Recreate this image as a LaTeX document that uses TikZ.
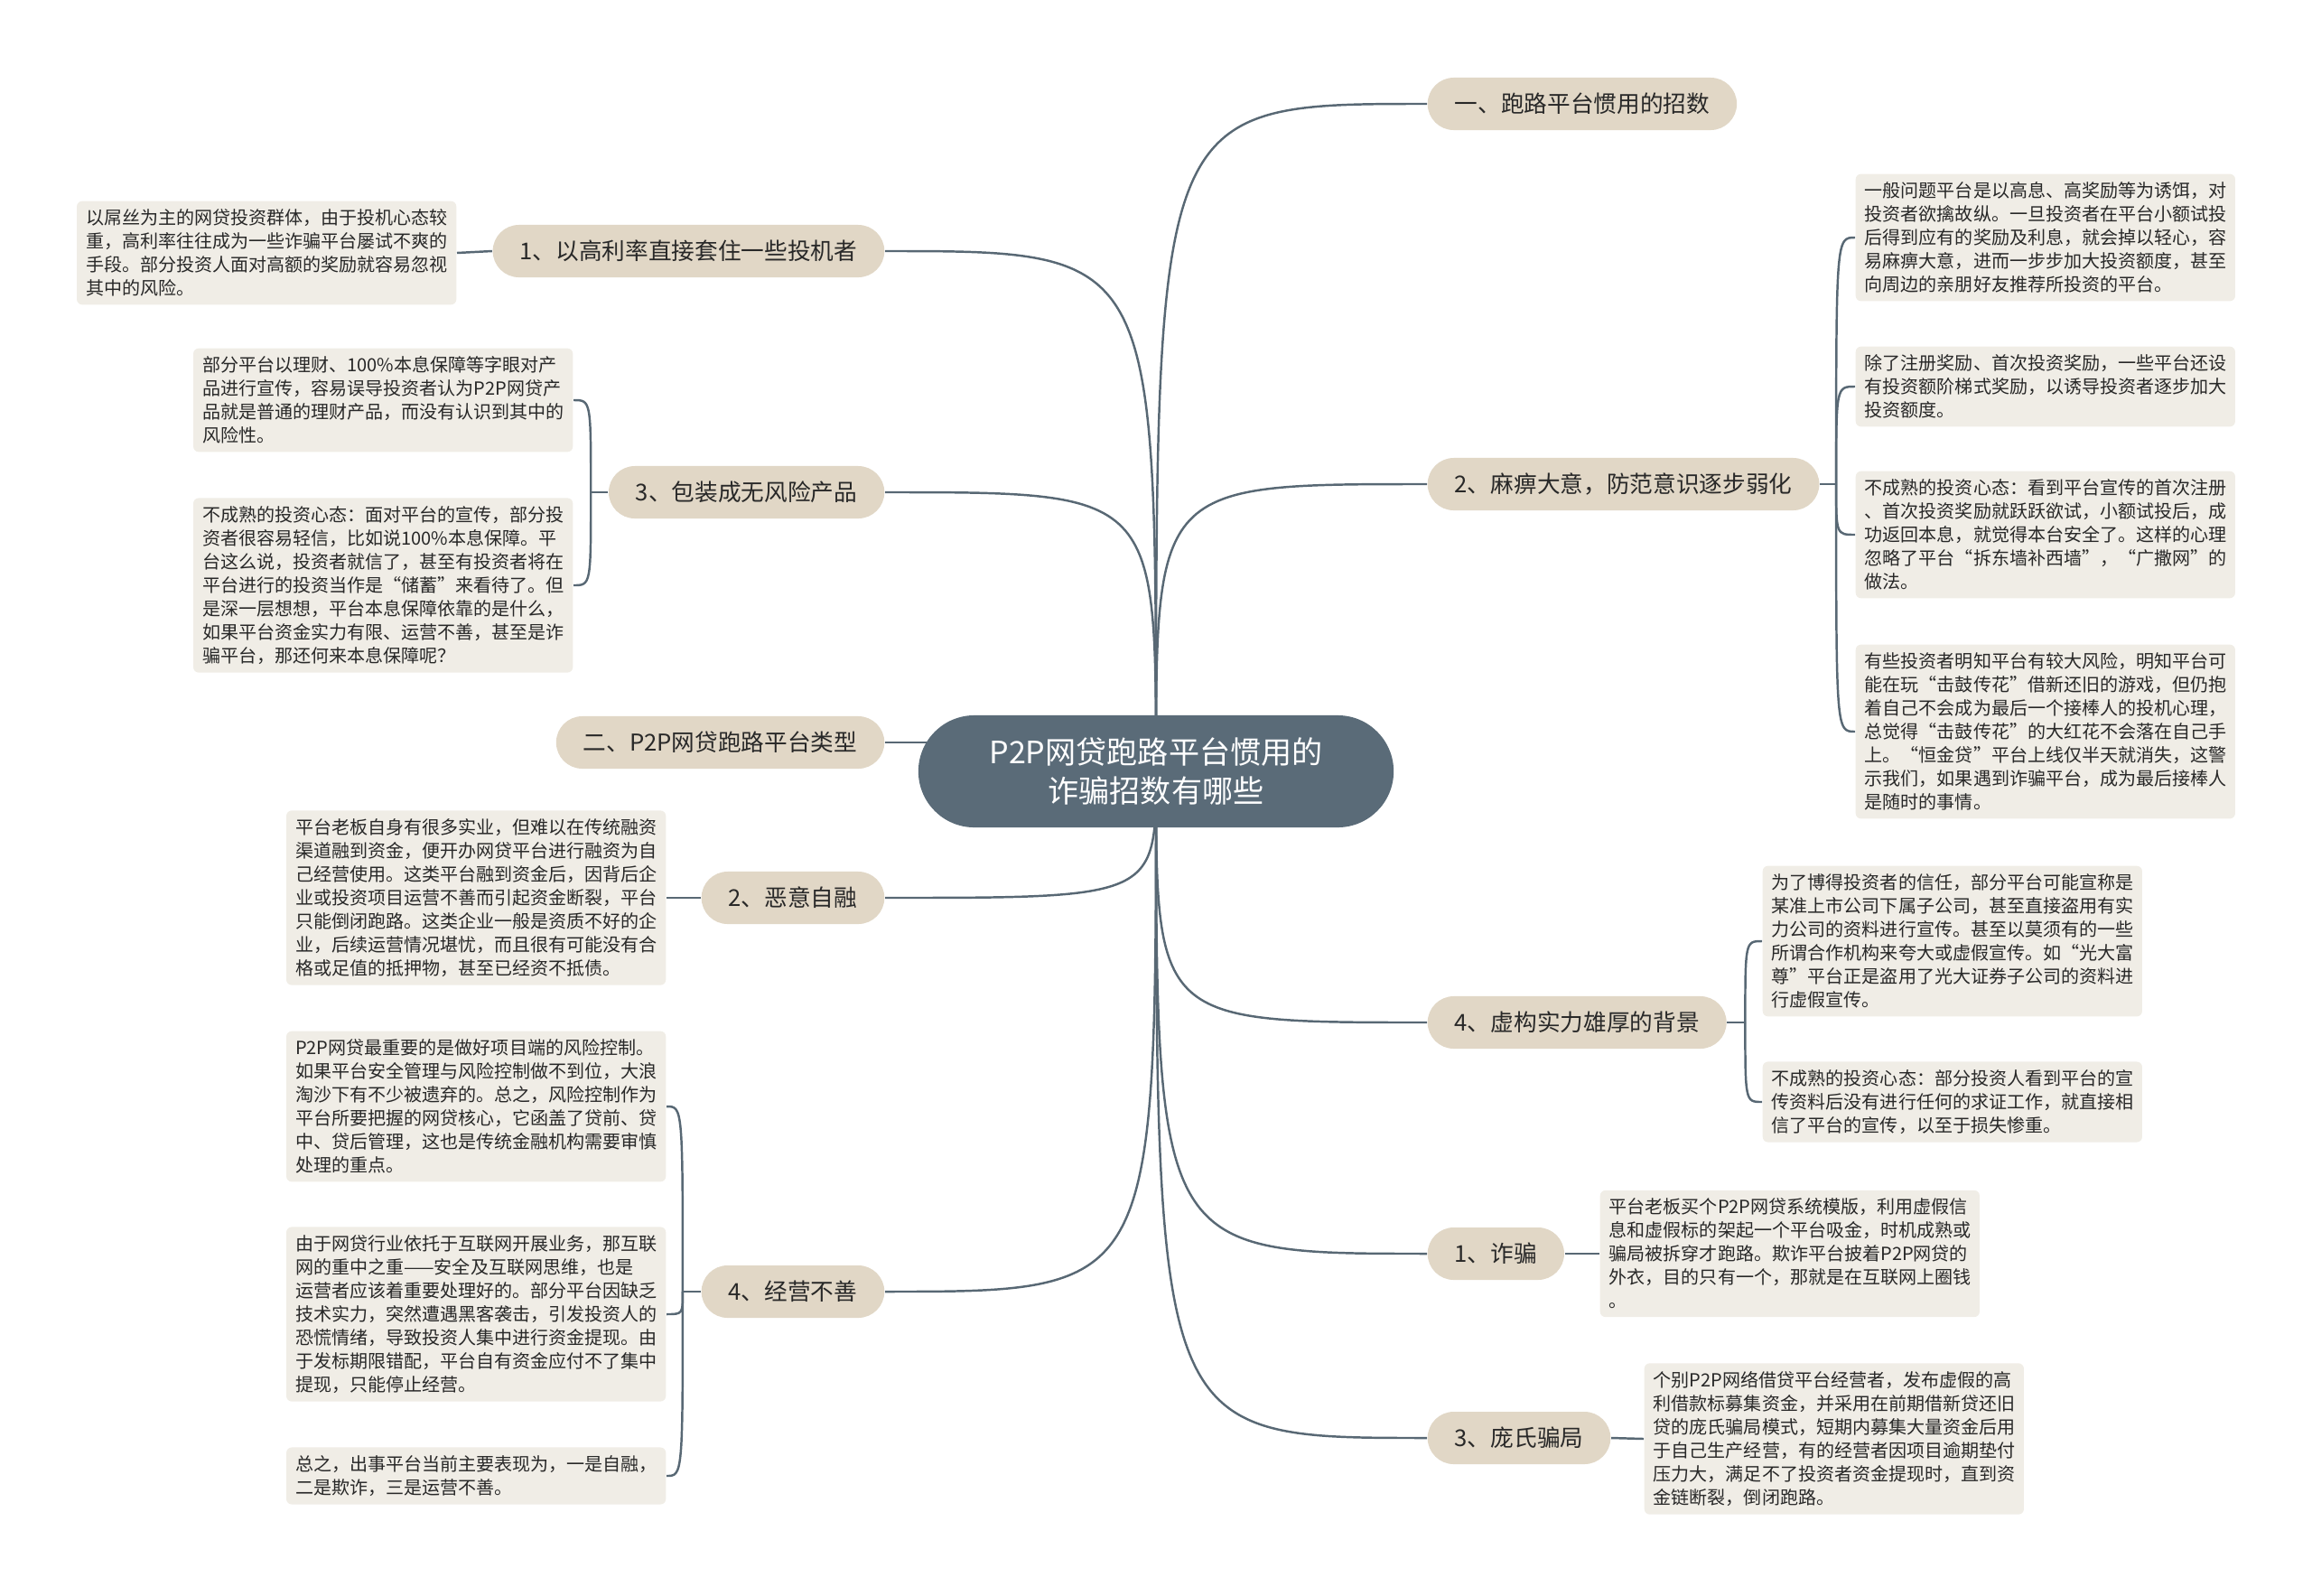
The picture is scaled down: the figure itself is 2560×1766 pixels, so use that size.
\documentclass[tikz,border=0pt]{standalone}
\usepackage{fontspec}
\setmainfont{Noto Sans CJK SC}
\usetikzlibrary{positioning,backgrounds}

\definecolor{hubfill}{RGB}{90,107,120}
\definecolor{topicfill}{RGB}{225,215,198}
\definecolor{leaffill}{RGB}{240,237,230}
\definecolor{linecol}{RGB}{88,104,116}
\definecolor{ink}{RGB}{40,40,40}

\begin{document}
\begin{tikzpicture}[x=0.01cm, y=-0.01cm,
    hub/.style={fill=hubfill, text=white, rounded corners=0.62cm, minimum width=5.26cm, minimum height=1.24cm, align=center, font=\fontsize{9.7}{12.5}\selectfont},
    topic/.style={fill=topicfill, text=ink, rounded corners=0.29cm, minimum height=0.58cm, inner xsep=0.3cm, font=\fontsize{7.3}{9}\selectfont},
    leaf/.style={fill=leaffill, text=ink, rounded corners=0.06cm, text width=4.0cm, align=left, inner xsep=0.1cm, inner ysep=0.09cm, font=\fontsize{5.7}{7.4}\selectfont},
    link/.style={draw=linecol, line width=0.7pt}]
    \useasboundingbox (0,0) rectangle (2560,1766);

    \node[hub] (ctr) at (1280,854) {P2P网贷跑路平台惯用的\\诈骗招数有哪些};

    % right side
    \node[topic, anchor=west] (t1) at (1580,115) {一、跑路平台惯用的招数};
    \node[topic, anchor=west] (r2) at (1580,536) {2、麻痹大意，防范意识逐步弱化};
    \node[topic, anchor=west] (r4) at (1580,1132) {4、虚构实力雄厚的背景};
    \node[topic, anchor=west] (rz) at (1580,1388) {1、诈骗};
    \node[topic, anchor=west] (rp) at (1580,1592) {3、庞氏骗局};

    \node[leaf, anchor=west] (r2a) at (2054,263) {一般问题平台是以高息、高奖励等为诱饵，对\\投资者欲擒故纵。一旦投资者在平台小额试投\\后得到应有的奖励及利息，就会掉以轻心，容\\易麻痹大意，进而一步步加大投资额度，甚至\\向周边的亲朋好友推荐所投资的平台。};
    \node[leaf, anchor=west] (r2b) at (2054,428) {除了注册奖励、首次投资奖励，一些平台还设\\有投资额阶梯式奖励，以诱导投资者逐步加大\\投资额度。};
    \node[leaf, anchor=west] (r2c) at (2054,592) {不成熟的投资心态：看到平台宣传的首次注册\\、首次投资奖励就跃跃欲试，小额试投后，成\\功返回本息，就觉得本台安全了。这样的心理\\忽略了平台“拆东墙补西墙”，“广撒网”的\\做法。};
    \node[leaf, anchor=west] (r2d) at (2054,810) {有些投资者明知平台有较大风险，明知平台可\\能在玩“击鼓传花”借新还旧的游戏，但仍抱\\着自己不会成为最后一个接棒人的投机心理，\\总觉得“击鼓传花”的大红花不会落在自己手\\上。“恒金贷”平台上线仅半天就消失，这警\\示我们，如果遇到诈骗平台，成为最后接棒人\\是随时的事情。};
    \node[leaf, anchor=west] (r4a) at (1951,1042) {为了博得投资者的信任，部分平台可能宣称是\\某准上市公司下属子公司，甚至直接盗用有实\\力公司的资料进行宣传。甚至以莫须有的一些\\所谓合作机构来夸大或虚假宣传。如“光大富\\尊”平台正是盗用了光大证券子公司的资料进\\行虚假宣传。};
    \node[leaf, anchor=west] (r4b) at (1951,1220) {不成熟的投资心态：部分投资人看到平台的宣\\传资料后没有进行任何的求证工作，就直接相\\信了平台的宣传，以至于损失惨重。};
    \node[leaf, anchor=west] (r1a) at (1771,1388) {平台老板买个P2P网贷系统模版，利用虚假信\\息和虚假标的架起一个平台吸金，时机成熟或\\骗局被拆穿才跑路。欺诈平台披着P2P网贷的\\外衣，目的只有一个，那就是在互联网上圈钱\\。};
    \node[leaf, anchor=west] (r3a) at (1820,1593) {个别P2P网络借贷平台经营者，发布虚假的高\\利借款标募集资金，并采用在前期借新贷还旧\\贷的庞氏骗局模式，短期内募集大量资金后用\\于自己生产经营，有的经营者因项目逾期垫付\\压力大，满足不了投资者资金提现时，直到资\\金链断裂，倒闭跑路。};

    % left side
    \node[topic, anchor=east] (b1) at (980,278) {1、以高利率直接套住一些投机者};
    \node[topic, anchor=east] (b3) at (980,545) {3、包装成无风险产品};
    \node[topic, anchor=east] (btype) at (980,822) {二、P2P网贷跑路平台类型};
    \node[topic, anchor=east] (b2) at (980,994) {2、恶意自融};
    \node[topic, anchor=east] (b4) at (980,1430) {4、经营不善};

    \node[leaf, anchor=east] (l1a) at (506,280) {以屌丝为主的网贷投资群体，由于投机心态较\\重，高利率往往成为一些诈骗平台屡试不爽的\\手段。部分投资人面对高额的奖励就容易忽视\\其中的风险。};
    \node[leaf, anchor=east] (l3a) at (635,443) {部分平台以理财、100\%本息保障等字眼对产\\品进行宣传，容易误导投资者认为P2P网贷产\\品就是普通的理财产品，而没有认识到其中的\\风险性。};
    \node[leaf, anchor=east] (l3b) at (635,648) {不成熟的投资心态：面对平台的宣传，部分投\\资者很容易轻信，比如说100\%本息保障。平\\台这么说，投资者就信了，甚至有投资者将在\\平台进行的投资当作是“储蓄”来看待了。但\\是深一层想想，平台本息保障依靠的是什么，\\如果平台资金实力有限、运营不善，甚至是诈\\骗平台，那还何来本息保障呢？};
    \node[leaf, anchor=east] (l2a) at (738,994) {平台老板自身有很多实业，但难以在传统融资\\渠道融到资金，便开办网贷平台进行融资为自\\己经营使用。这类平台融到资金后，因背后企\\业或投资项目运营不善而引起资金断裂，平台\\只能倒闭跑路。这类企业一般是资质不好的企\\业，后续运营情况堪忧，而且很有可能没有合\\格或足值的抵押物，甚至已经资不抵债。};
    \node[leaf, anchor=east] (l4a) at (738,1225) {P2P网贷最重要的是做好项目端的风险控制。\\如果平台安全管理与风险控制做不到位，大浪\\淘沙下有不少被遗弃的。总之，风险控制作为\\平台所要把握的网贷核心，它函盖了贷前、贷\\中、贷后管理，这也是传统金融机构需要审慎\\处理的重点。};
    \node[leaf, anchor=east] (l4b) at (738,1455) {由于网贷行业依托于互联网开展业务，那互联\\网的重中之重——安全及互联网思维，也是\\运营者应该着重要处理好的。部分平台因缺乏\\技术实力，突然遭遇黑客袭击，引发投资人的\\恐慌情绪，导致投资人集中进行资金提现。由\\于发标期限错配，平台自有资金应付不了集中\\提现，只能停止经营。};
    \node[leaf, anchor=east] (l4c) at (738,1634) {总之，出事平台当前主要表现为，一是自融，\\二是欺诈，三是运营不善。};

    % junctions of the brackets
    \coordinate[left=0.19cm of b3.west] (j3);
    \coordinate[left=0.2cm of b4.west] (j4);
    \coordinate[right=0.18cm of r2.east] (jr2);
    \coordinate[right=0.2cm of r4.east] (jr4);

    \begin{scope}[on background layer]
        \foreach \b in {t1,r2,r4,rz,rp}
            \draw[link] (ctr.center) .. controls (ctr.center |- \b.west) .. (\b.west);
        \foreach \b in {b1,b3,b2,b4}
            \draw[link] (ctr.center) .. controls (ctr.center |- \b.east) .. (\b.east);
        \draw[link] (btype.east) -- (btype.east -| ctr.center);

        \draw[link] (b1.west) -- (l1a.east);
        \draw[link] (b2.west) -- (l2a.east);
        \draw[link] (rz.east) -- (r1a.west);
        \draw[link] (rp.east) -- (r3a.west);

        \draw[link] (b3.west) -- (j3);
        \foreach \l in {l3a,l3b}
            \draw[link] (j3) .. controls (j3 |- \l.east) .. (\l.east);
        \draw[link] (b4.west) -- (j4);
        \foreach \l in {l4a,l4b,l4c}
            \draw[link] (j4) .. controls (j4 |- \l.east) .. (\l.east);
        \draw[link] (r2.east) -- (jr2);
        \foreach \l in {r2a,r2b,r2c,r2d}
            \draw[link] (jr2) .. controls (jr2 |- \l.west) .. (\l.west);
        \draw[link] (r4.east) -- (jr4);
        \foreach \l in {r4a,r4b}
            \draw[link] (jr4) .. controls (jr4 |- \l.west) .. (\l.west);
    \end{scope}
\end{tikzpicture}
\end{document}
